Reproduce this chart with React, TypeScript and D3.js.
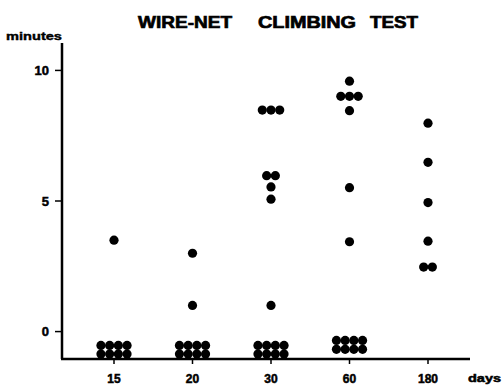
import * as d3 from "d3";

// observed minutes per group (values below 0 = animals that did not climb, stacked under the zero line)
const days = ["15", "20", "30", "60", "180"];
const day15 = [3.5, -0.53, -0.53, -0.53, -0.53, -0.86, -0.86, -0.86, -0.86];
const day20 = [3.0, 1.0, -0.53, -0.53, -0.53, -0.53, -0.86, -0.86, -0.86, -0.86];
const day30 = [8.48, 8.48, 8.48, 5.97, 5.97, 5.54, 5.07, 1.0, -0.53, -0.53, -0.53, -0.53, -0.86, -0.86, -0.86, -0.86];
const day60 = [9.59, 9.01, 9.01, 9.01, 8.46, 5.51, 3.44, -0.34, -0.34, -0.34, -0.34, -0.68, -0.68, -0.68, -0.68];
const day180 = [7.98, 6.48, 4.94, 3.46, 2.47, 2.47];
const yTicks = [0, 5, 10];

const series = [day15, day20, day30, day60, day180];

const W = 503;
const H = 387;

export default function App() {
  const x = d3.scalePoint<string>().domain(days).range([114, 428]);
  const y = d3.scaleLinear().domain([-1.05, 11.05]).range([359, 43]);
  const step = 8.7;

  // lay identical values side by side, centred on the category
  const dots: { cx: number; cy: number }[] = [];
  series.forEach((vals, i) => {
    const groups = d3.group(vals, (v) => v.toFixed(2));
    groups.forEach((g) => {
      g.forEach((v, j) => {
        dots.push({
          cx: (x(days[i]) as number) + (j - (g.length - 1) / 2) * step,
          cy: y(v),
        });
      });
    });
  });

  const font = "'Liberation Sans', Arial, Helvetica, sans-serif";
  const heavy = { fontFamily: font, fontWeight: "bold" as const, stroke: "#000", strokeWidth: 0.7 };

  return (
    <svg width={W} height={H} style={{ position: "absolute", left: 0, top: 0, background: "#fff" }}>
      <g {...heavy} fill="#000">
        <text x={138} y={28} fontSize={17} textLength={94} lengthAdjust="spacingAndGlyphs">WIRE-NET</text>
        <text x={258} y={28} fontSize={17} textLength={98} lengthAdjust="spacingAndGlyphs">CLIMBING</text>
        <text x={370} y={28} fontSize={17} textLength={48} lengthAdjust="spacingAndGlyphs">TEST</text>
        <text x={6} y={40} fontSize={11} strokeWidth={0.4} textLength={56} lengthAdjust="spacingAndGlyphs">minutes</text>
        <text x={468} y={382} fontSize={11} strokeWidth={0.5} textLength={33} lengthAdjust="spacingAndGlyphs">days</text>
      </g>

      {/* axes */}
      <line x1={62} x2={62} y1={y(11.05)} y2={y(-1.05)} stroke="#000" strokeWidth={2.5} />
      <line x1={61} x2={470} y1={359} y2={359} stroke="#000" strokeWidth={2.5} />

      {yTicks.map((t) => (
        <g key={t}>
          <line x1={55} x2={62} y1={y(t)} y2={y(t)} stroke="#000" strokeWidth={1.5} />
          <text x={49} y={y(t)} dy="0.36em" textAnchor="end" {...heavy} strokeWidth={0.5} fontSize={13}>
            {t}
          </text>
        </g>
      ))}

      {days.map((d) => (
        <g key={d}>
          <line x1={x(d)} x2={x(d)} y1={359} y2={364} stroke="#000" strokeWidth={1.5} />
          <text x={x(d)} y={383} textAnchor="middle" {...heavy} strokeWidth={0.5} fontSize={12}>
            {d}
          </text>
        </g>
      ))}

      {dots.map((p, i) => (
        <circle key={i} cx={p.cx} cy={p.cy} r={4.6} fill="#000" />
      ))}
    </svg>
  );
}
